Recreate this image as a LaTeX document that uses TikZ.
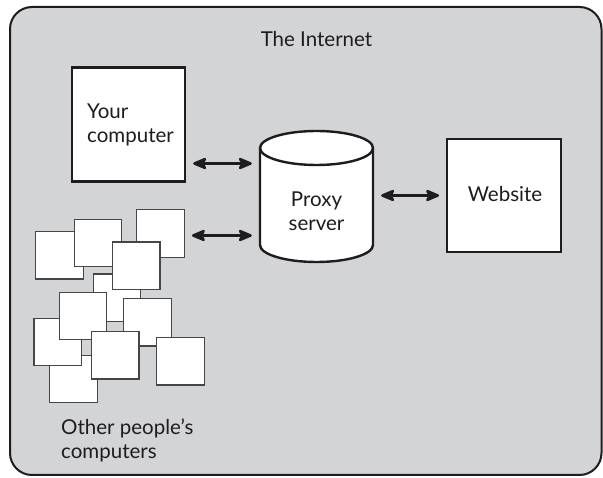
\documentclass[tikz,border=0pt]{standalone}
\usepackage{fontspec}
\setmainfont{Lato}
\usetikzlibrary{arrows.meta}
\definecolor{bgfill}{RGB}{211,212,214}
\definecolor{ink}{RGB}{30,28,30}
\definecolor{boxink}{RGB}{70,70,72}
\tikzset{
  lbl/.style={font=\fontsize{20.5}{24.5}\selectfont, text=ink, inner sep=0pt},
  bigbox/.style={draw=ink, line width=2.4pt, fill=white, inner sep=0pt},
  smallbox/.style={draw=boxink, line width=1.4pt, fill=white, minimum width=47.5pt, minimum height=47.5pt, inner sep=0pt},
  biarrow/.style={draw=ink, line width=2.6pt,
    arrows={Stealth[length=17pt,width=14pt,inset=4.5pt,round]-Stealth[length=17pt,width=14pt,inset=4.5pt,round]}}
}
\begin{document}
\begin{tikzpicture}[x=1pt,y=-1pt]
\useasboundingbox (0,0) rectangle (603,478);
% outer frame
\draw[draw=ink, line width=2pt, fill=bgfill, rounded corners=22pt] (10,7) rectangle (601.5,475);
\node[lbl, anchor=base] (internet) at (316.5,46.5) {The Internet};
% your computer
\node[bigbox, minimum width=113pt, minimum height=114pt] (yourcomp) at (128.5,124.5) {};
\node[lbl, anchor=north west, align=left] (yourlbl) at (87,103.5) {Your\\computer};
% proxy server cylinder
\node[minimum width=113pt, minimum height=131pt, inner sep=0pt] (proxy) at (316.5,196.5) {};
\draw[draw=ink, line width=2.4pt, fill=white]
  (260,148) -- (260,245) arc[start angle=180, end angle=0, x radius=56.5, y radius=17]
  -- (373,148) arc[start angle=0, end angle=-180, x radius=56.5, y radius=17] -- cycle;
\draw[draw=ink, line width=2.4pt] (260,148) arc[start angle=180, end angle=0, x radius=56.5, y radius=17];
\node[lbl, anchor=north, align=center] (proxylbl) at (316.5,191.5) {Proxy\\server};
% website
\node[bigbox, minimum width=113.5pt, minimum height=112.5pt] (website) at (504,195.5) {};
\node[lbl, anchor=base] (weblbl) at (505,202) {Website};
% other computers
\node[smallbox] (c1) at (59.5,255.4) {};
\node[smallbox] (c2) at (98,243) {};
\node[smallbox] (c3) at (160.5,233.5) {};
\node[smallbox] (c5) at (117,297.7) {};
\node[smallbox] (c4) at (136.2,265.7) {};
\node[smallbox] (c9) at (73.5,379) {};
\node[smallbox] (c8) at (57.8,342) {};
\node[smallbox] (c6) at (83,316) {};
\node[smallbox] (c7) at (147.5,322.4) {};
\node[smallbox] (c10) at (115.2,355.2) {};
\node[smallbox] (c11) at (180.5,361.2) {};
\node[lbl, anchor=north west, align=left] (otherlbl) at (61,418.5) {Other people’s\\computers};
% connectors
\draw[biarrow, shorten <=7pt, shorten >=8pt] (yourcomp.east |- 0,163.5) -- (proxy.west |- 0,163.5);
\draw[biarrow, shorten <=7pt, shorten >=8pt] (c3.east |- 0,235.5) -- (proxy.west |- 0,235.5);
\draw[biarrow, shorten <=8pt, shorten >=7pt] (proxy.east |- website.west) -- (website.west);
\end{tikzpicture}
\end{document}
